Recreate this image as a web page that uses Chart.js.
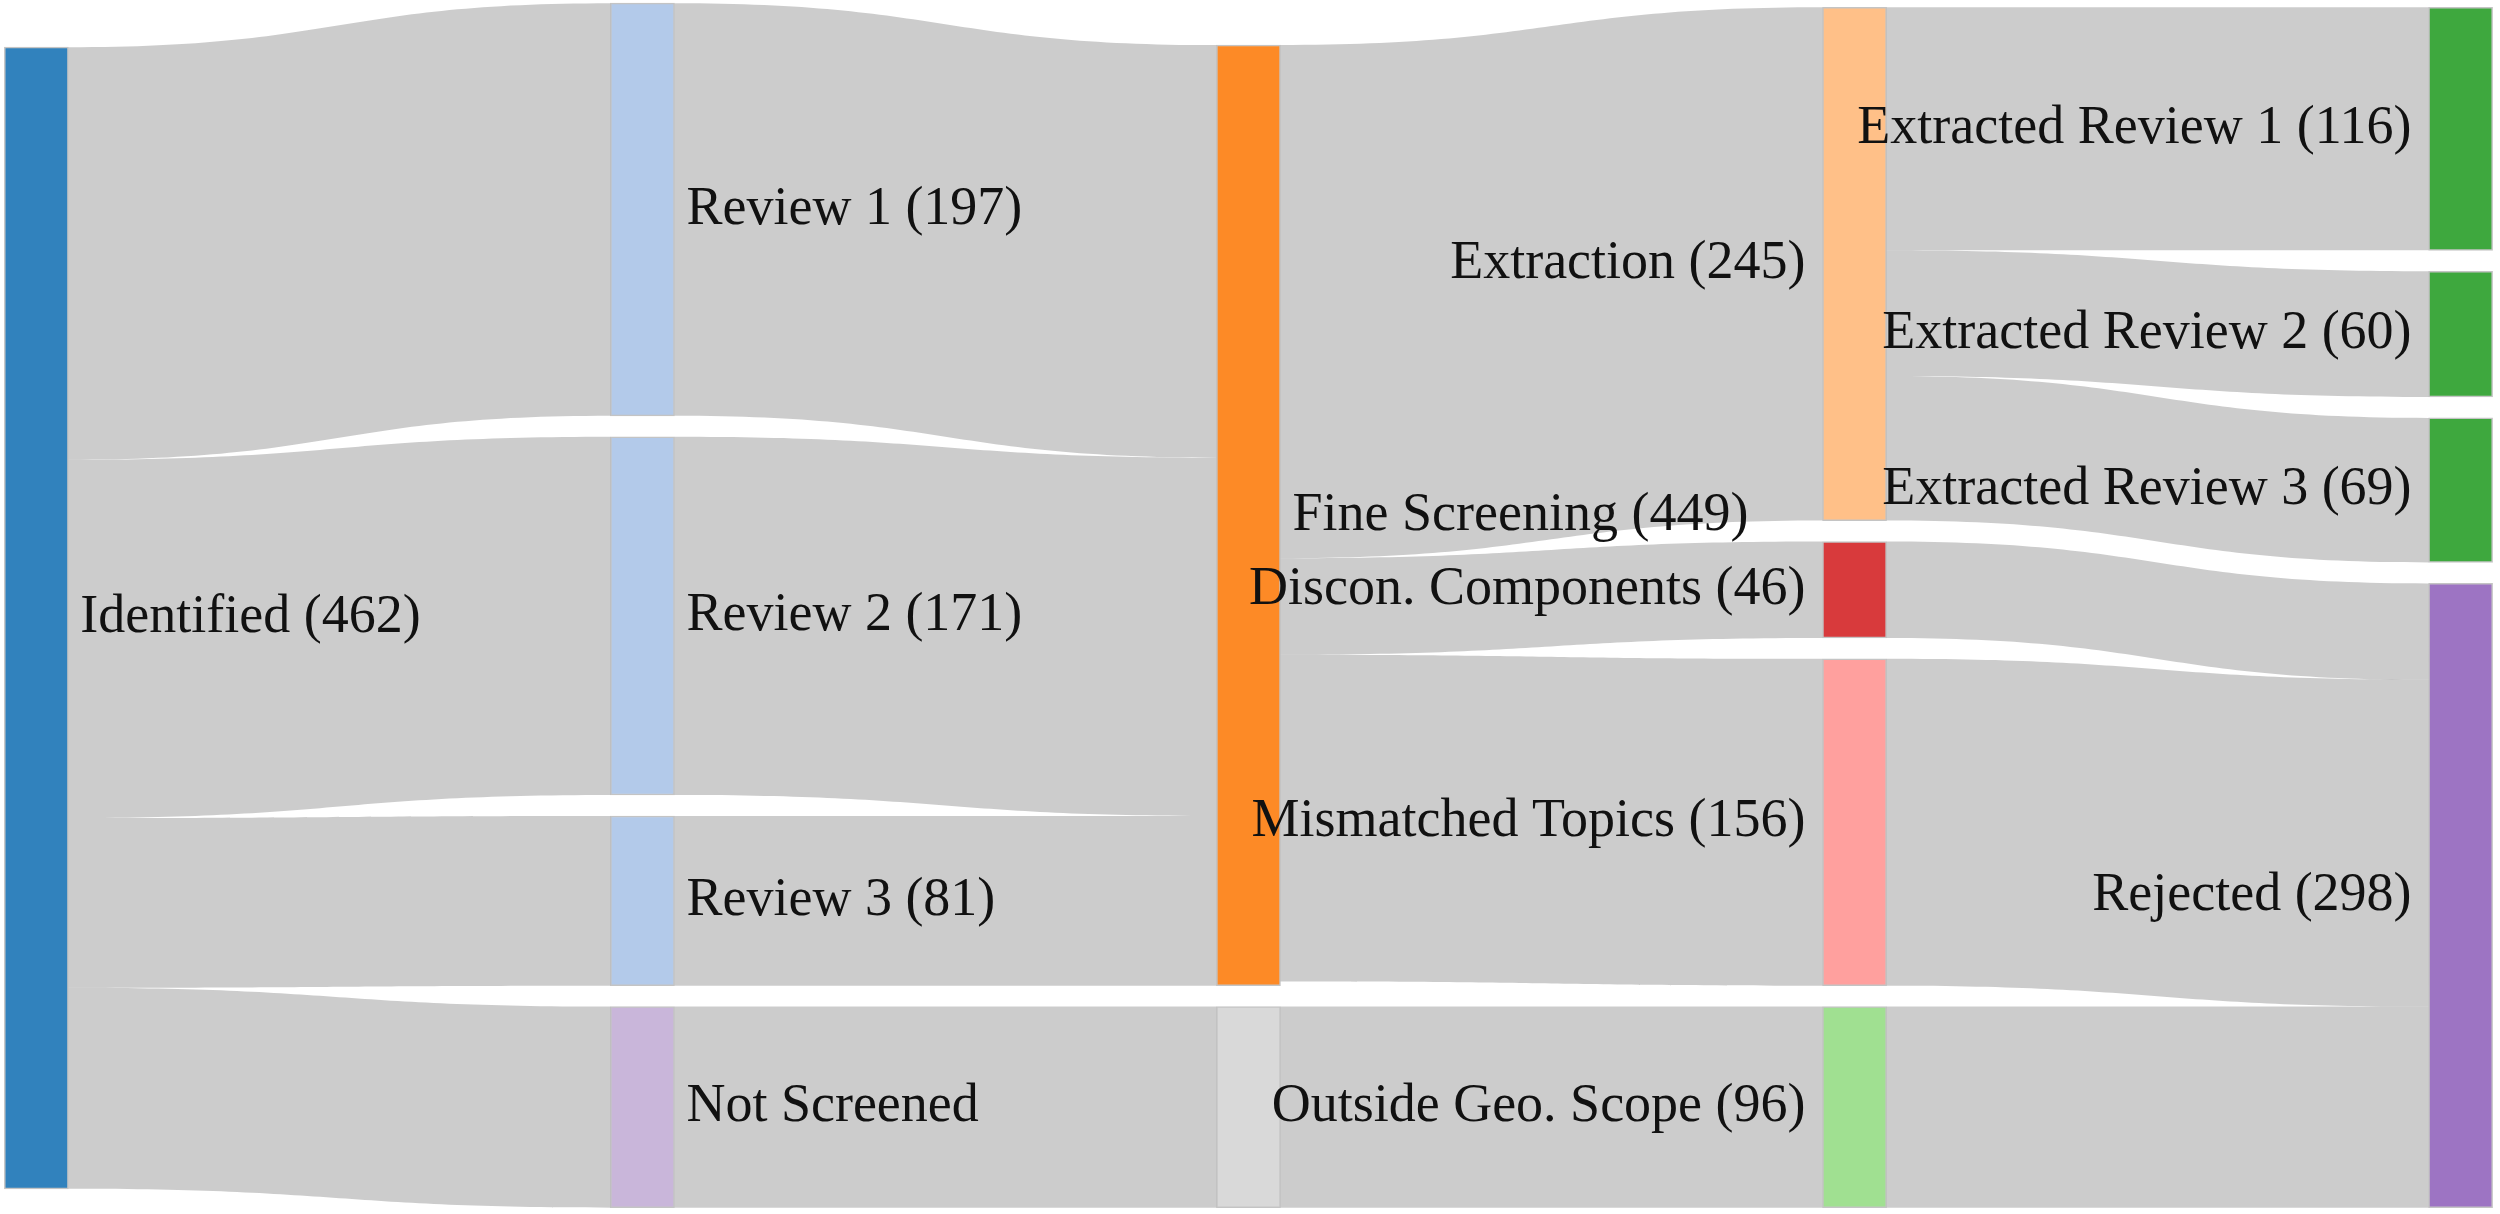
<!DOCTYPE html>
<html>
<head>
<meta charset="utf-8">
<title>Screening flow</title>
<script src="https://cdn.jsdelivr.net/npm/chart.js@4.4.1/dist/chart.umd.min.js"></script>
<style>
  html, body { margin: 0; padding: 0; background: #fff; overflow: hidden; }
  #wrap { position: relative; width: 2500px; height: 1214px; }
</style>
</head>
<body>
<div id="wrap"><canvas id="flowChart"></canvas></div>
<script>
// nodes, in top-to-bottom order inside each column
const nodeLabels = [
  'Identified (462)',
  'Review 1 (197)', 'Review 2 (171)', 'Review 3 (81)', 'Not Screened',
  'Fine Screening (449)', '',
  'Extraction (245)', 'Discon. Components (46)', 'Mismatched Topics (156)', 'Outside Geo. Scope (96)',
  'Extracted Review 1 (116)', 'Extracted Review 2 (60)', 'Extracted Review 3 (69)', 'Rejected (298)'
];
const nodeColumns = [0, 1, 1, 1, 1, 2, 2, 3, 3, 3, 3, 4, 4, 4, 4];
const nodeColors = [
  '#3182bd',
  '#b3caea', '#b3caea', '#b3caea', '#c9b6da',
  '#fd8a26', '#d9d9d9',
  '#ffc088', '#d83a3c', '#ffa09e', '#a0e091',
  '#3ea83e', '#3ea83e', '#3ea83e', '#9d74c3'
];

// links
const linkSources = [0, 0, 0, 0, 1, 2, 3, 4, 5, 5, 5, 6, 7, 7, 7, 8, 9, 10];
const linkTargets = [1, 2, 3, 4, 5, 5, 5, 6, 7, 8, 9, 10, 11, 12, 13, 14, 14, 14];
const linkValues = [197, 171, 81, 96, 197, 171, 81, 96, 245, 46, 156, 96, 116, 60, 69, 46, 156, 96];

const nodePad = 10;          // gap between nodes, in flow units
const sourceAlign = 0.7;     // share of free space kept above a pure-source column
const linkColor = 'rgba(0,0,0,0.2)';
const labelFont = '54px "Liberation Serif", "Times New Roman", serif';

// --- simple sankey layout in flow units ---
const sumIn = nodeLabels.map(() => 0);
const sumOut = nodeLabels.map(() => 0);
linkValues.forEach((v, k) => {
  sumOut[linkSources[k]] += v;
  sumIn[linkTargets[k]] += v;
});
const nodeValues = nodeLabels.map((_, i) => Math.max(sumIn[i], sumOut[i]));

const columns = [...new Set(nodeColumns)];
const columnNodes = columns.map(c => nodeLabels.map((_, i) => i).filter(i => nodeColumns[i] === c));
const columnExtent = columnNodes.map(ids =>
  ids.reduce((s, i) => s + nodeValues[i], 0) + (ids.length - 1) * nodePad
);
const maxExtent = Math.max(...columnExtent);

const nodeTop = [];
columnNodes.forEach((ids, c) => {
  const free = maxExtent - columnExtent[c];
  const onlySources = ids.every(i => sumIn[i] === 0);
  // other columns sit on the common baseline
  let y = onlySources ? free * sourceAlign : free;
  ids.forEach(i => {
    nodeTop[i] = y;
    y += nodeValues[i] + nodePad;
  });
});

// stack link ends inside their nodes
const outOffset = nodeTop.slice();
const inOffset = nodeTop.slice();
const linkOrder = linkValues.map((_, k) => k);
const linkBands = linkValues.map(() => ({}));
linkOrder.slice().sort((a, b) => nodeTop[linkTargets[a]] - nodeTop[linkTargets[b]]).forEach(k => {
  const s = linkSources[k];
  linkBands[k].sy0 = outOffset[s];
  linkBands[k].sy1 = outOffset[s] + linkValues[k];
  outOffset[s] += linkValues[k];
});
linkOrder.slice().sort((a, b) => nodeTop[linkSources[a]] - nodeTop[linkSources[b]]).forEach(k => {
  const t = linkTargets[k];
  linkBands[k].ty0 = inOffset[t];
  linkBands[k].ty1 = inOffset[t] + linkValues[k];
  inOffset[t] += linkValues[k];
});

const nodeData = nodeLabels.map((_, i) => ({
  x: nodeColumns[i],
  y: [nodeTop[i], nodeTop[i] + nodeValues[i]]
}));

const sankeyPlugin = {
  id: 'sankeyPlugin',
  beforeDatasetsDraw(chart) {
    const ctx = chart.ctx;
    const yScale = chart.scales.y;
    const bars = chart.getDatasetMeta(0).data;
    ctx.save();
    ctx.fillStyle = linkColor;
    linkBands.forEach((b, k) => {
      const s = bars[linkSources[k]].getProps(['x', 'width'], true);
      const t = bars[linkTargets[k]].getProps(['x', 'width'], true);
      const x0 = s.x + s.width / 2;
      const x1 = t.x - t.width / 2;
      const xm = (x0 + x1) / 2;
      const sy0 = yScale.getPixelForValue(b.sy0);
      const sy1 = yScale.getPixelForValue(b.sy1);
      const ty0 = yScale.getPixelForValue(b.ty0);
      const ty1 = yScale.getPixelForValue(b.ty1);
      ctx.beginPath();
      ctx.moveTo(x0, sy0);
      ctx.bezierCurveTo(xm, sy0, xm, ty0, x1, ty0);
      ctx.lineTo(x1, ty1);
      ctx.bezierCurveTo(xm, ty1, xm, sy1, x0, sy1);
      ctx.closePath();
      ctx.fill();
    });
    ctx.restore();
  },
  afterDatasetsDraw(chart) {
    const ctx = chart.ctx;
    const bars = chart.getDatasetMeta(0).data;
    const mid = (chart.chartArea.left + chart.chartArea.right) / 2;
    ctx.save();
    ctx.font = labelFont;
    ctx.fillStyle = '#111';
    ctx.textBaseline = 'middle';
    nodeLabels.forEach((label, i) => {
      if (!label) return;
      const bar = bars[i].getProps(['x', 'y', 'base', 'width'], true);
      const yMid = (bar.y + bar.base) / 2;
      if (bar.x < mid) {
        ctx.textAlign = 'left';
        ctx.fillText(label, bar.x + bar.width / 2 + 12, yMid);
      } else {
        ctx.textAlign = 'right';
        ctx.fillText(label, bar.x - bar.width / 2 - 17, yMid);
      }
    });
    ctx.restore();
  }
};

new Chart(document.getElementById('flowChart'), {
  type: 'bar',
  data: {
    datasets: [{
      data: nodeData,
      backgroundColor: nodeColors,
      borderColor: 'rgba(60,60,60,0.3)',
      borderWidth: 1.5,
      borderSkipped: false,
      barThickness: 64
    }]
  },
  options: {
    responsive: true,
    maintainAspectRatio: false,
    animation: false,
    layout: { padding: 0 },
    plugins: {
      legend: { display: false },
      tooltip: { enabled: false }
    },
    scales: {
      x: { type: 'linear', offset: false, min: -0.06, max: 4.065, display: false, grid: { display: false } },
      y: { type: 'linear', min: -1.5, max: 578, reverse: true, display: false, grid: { display: false } }
    }
  },
  plugins: [sankeyPlugin]
});
</script>
</body>
</html>
